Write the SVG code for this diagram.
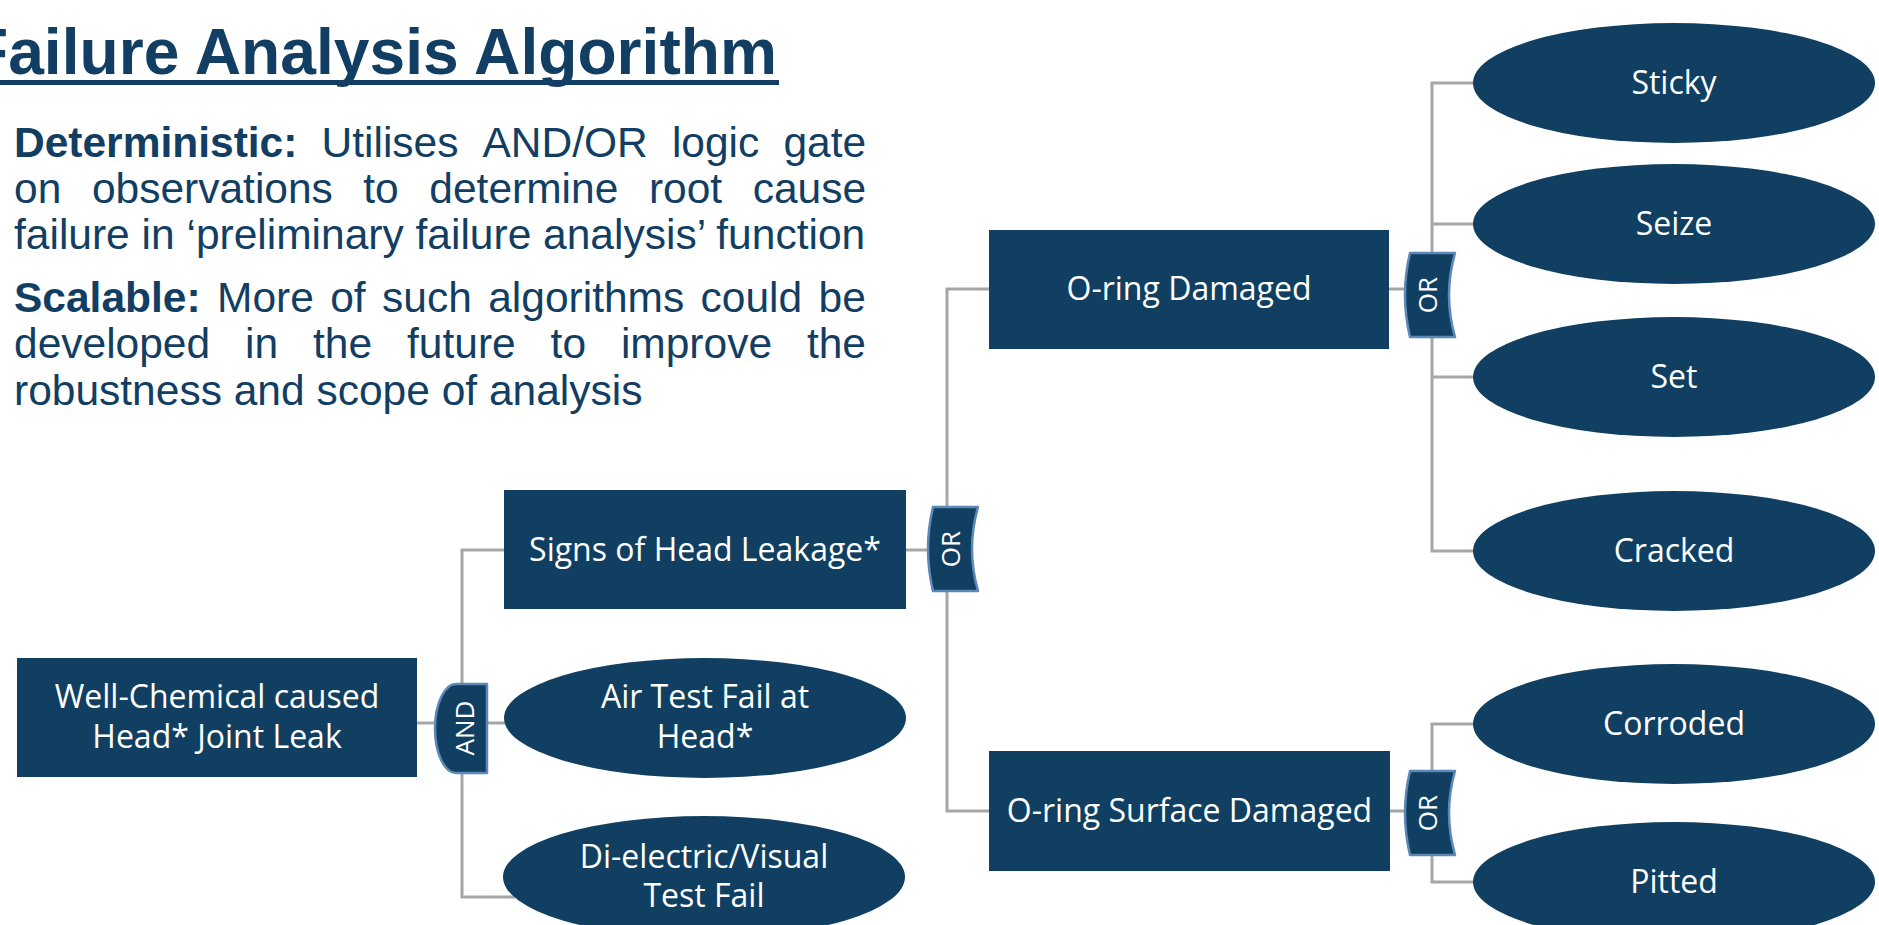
<svg xmlns="http://www.w3.org/2000/svg" width="1879" height="925" viewBox="0 0 1879 925">
<style>
.bg{fill:#ffffff}
.title{font-family:"Liberation Sans",Arial,sans-serif;font-weight:bold;font-size:64px;fill:#113e62}
.body{font-family:"Liberation Sans",Arial,sans-serif;font-size:42.5px;fill:#113e62}
.b{font-weight:bold}
.node{fill:#103f62}
.gate{fill:#103f62;stroke:#5d89b6;stroke-width:2.5;stroke-linejoin:round}
.lbl{font-family:"Open Sans","Noto Sans",sans-serif;font-size:32px;fill:#ffffff;text-anchor:middle}
.glbl{font-family:"Open Sans","Noto Sans",sans-serif;font-size:26px;fill:#ffffff;text-anchor:middle}
.conn{fill:none;stroke:#a6a6a6;stroke-width:3}
</style>
<rect class="bg" x="0" y="0" width="1879" height="925"/>

<g id="title">
<text class="title" x="-31" y="74" textLength="808" lengthAdjust="spacingAndGlyphs">Failure Analysis Algorithm</text>
<rect x="0" y="80" width="779" height="5" fill="#113e62"/>
</g>

<g id="description">
<text class="body" y="157"><tspan class="b" x="14">Deterministic:</tspan><tspan x="321.5">Utilises</tspan><tspan x="482.5">AND/OR</tspan><tspan x="671.9">logic</tspan><tspan x="783.4">gate</tspan></text>
<text class="body" y="203"><tspan x="14">on</tspan><tspan x="91.9">observations</tspan><tspan x="363.3">to</tspan><tspan x="429.3">determine</tspan><tspan x="648.9">root</tspan><tspan x="752.7">cause</tspan></text>
<text class="body" x="14" y="249">failure in ‘preliminary failure analysis’ function</text>
<text class="body" y="312"><tspan class="b" x="14">Scalable:</tspan><tspan x="217">More</tspan><tspan x="330.2">of</tspan><tspan x="382">such</tspan><tspan x="488.2">algorithms</tspan><tspan x="700.6">could</tspan><tspan x="818.6">be</tspan></text>
<text class="body" y="358"><tspan x="14">developed</tspan><tspan x="245">in</tspan><tspan x="313">the</tspan><tspan x="407">future</tspan><tspan x="550.6">to</tspan><tspan x="620.9">improve</tspan><tspan x="806.9">the</tspan></text>
<text class="body" x="14" y="405">robustness and scope of analysis</text>
</g>

<g id="connectors">
<path class="conn" d="M417,723 H435 M487,723 H515"/>
<path class="conn" d="M515,550 H462 V897 H515"/>
<path class="conn" d="M906,550 H929"/>
<path class="conn" d="M995,289 H947 V811 H995"/>
<path class="conn" d="M1389,289 H1406"/>
<path class="conn" d="M1480,83 H1432 V551 H1480 M1432,224 H1480 M1432,377 H1480"/>
<path class="conn" d="M1390,811 H1406"/>
<path class="conn" d="M1480,724 H1432 V882 H1480"/>
</g>

<g id="well-chemical">
<rect class="node" x="17" y="658" width="400" height="119"/>
<text class="lbl" x="217" y="708">Well-Chemical caused</text>
<text class="lbl" x="217" y="748">Head* Joint Leak</text>
</g>

<g id="gate-and">
<path class="gate" d="M487,684 L456,684 A21,44.5 0 0 0 456,773 L487,773 Z"/>
<text class="glbl" transform="translate(464,728) rotate(-90)" y="9.5">AND</text>
</g>

<g id="signs-of-head-leakage">
<rect class="node" x="504" y="490" width="402" height="119"/>
<text class="lbl" x="705" y="561">Signs of Head Leakage*</text>
</g>

<g id="air-test-fail">
<ellipse class="node" cx="705" cy="718" rx="201" ry="60"/>
<text class="lbl" x="705" y="708">Air Test Fail at</text>
<text class="lbl" x="705" y="748">Head*</text>
</g>

<g id="dielectric-visual-test-fail">
<ellipse class="node" cx="704" cy="877" rx="201" ry="61"/>
<text class="lbl" x="704" y="868">Di-electric/Visual</text>
<text class="lbl" x="704" y="907">Test Fail</text>
</g>

<g id="gate-or-1">
<path class="gate" d="M933,507 L978,507 Q966,549 978,591 L933,591 Q923,549 933,507 Z"/>
<text class="glbl" transform="translate(950,549) rotate(-90)" y="9.5">OR</text>
</g>

<g id="o-ring-damaged">
<rect class="node" x="989" y="230" width="400" height="119"/>
<text class="lbl" x="1189" y="300">O-ring Damaged</text>
</g>

<g id="o-ring-surface-damaged">
<rect class="node" x="989" y="751" width="401" height="120"/>
<text class="lbl" x="1189.5" y="822">O-ring Surface Damaged</text>
</g>

<g id="gate-or-2">
<path class="gate" d="M1410,253 L1455,253 Q1443,295 1455,337 L1410,337 Q1400,295 1410,253 Z"/>
<text class="glbl" transform="translate(1427,295) rotate(-90)" y="9.5">OR</text>
</g>

<g id="gate-or-3">
<path class="gate" d="M1410,771 L1455,771 Q1443,813 1455,855 L1410,855 Q1400,813 1410,771 Z"/>
<text class="glbl" transform="translate(1427,813) rotate(-90)" y="9.5">OR</text>
</g>

<g id="sticky">
<ellipse class="node" cx="1674" cy="83" rx="201" ry="60"/>
<text class="lbl" x="1674" y="94">Sticky</text>
</g>
<g id="seize">
<ellipse class="node" cx="1674" cy="224" rx="201" ry="60"/>
<text class="lbl" x="1674" y="235">Seize</text>
</g>
<g id="set">
<ellipse class="node" cx="1674" cy="377" rx="201" ry="60"/>
<text class="lbl" x="1674" y="388">Set</text>
</g>
<g id="cracked">
<ellipse class="node" cx="1674" cy="551" rx="201" ry="60"/>
<text class="lbl" x="1674" y="562">Cracked</text>
</g>
<g id="corroded">
<ellipse class="node" cx="1674" cy="724" rx="201" ry="60"/>
<text class="lbl" x="1674" y="735">Corroded</text>
</g>
<g id="pitted">
<ellipse class="node" cx="1674" cy="882" rx="201" ry="60"/>
<text class="lbl" x="1674" y="893">Pitted</text>
</g>
</svg>
